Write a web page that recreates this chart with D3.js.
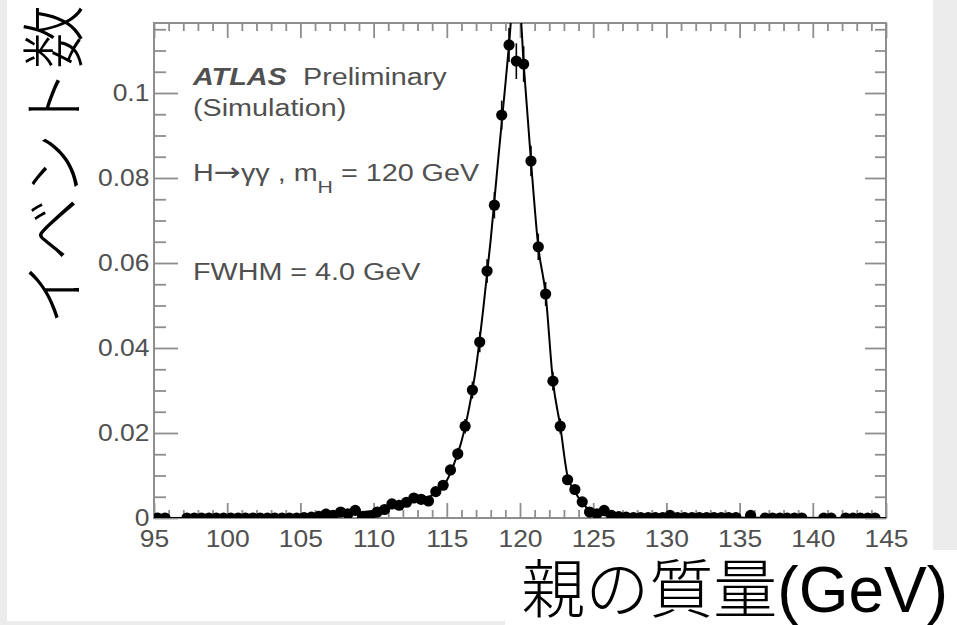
<!DOCTYPE html>
<html>
<head>
<meta charset="utf-8">
<script src="https://cdn.jsdelivr.net/npm/d3@7"></script>
<style>
  body { margin: 0; background: #ececec; }
  svg { display: block; }
</style>
</head>
<body>
<div id="chart"></div>
<script>
// ヒストグラム: 0.5 GeV ビン (中心 95.25 ... 144.75), null = 空のビン
const binStart = 95.25;
const binWidth = 0.5;
const counts = [
  0, 0, null, null, 0, 0, 0, 0, 0, 0,                                         // 95.25 - 99.75
  0, 0, 0, 0, 0, 0, 0, 0, 0, 0,                                               // 100.25 - 104.75
  0.0001, 0.0002, 0.0004, 0.0009, 0.0006, 0.0014, 0.0010, 0.0018, 0.0004, 0.0003, // 105.25 - 109.75
  0.0014, 0.0020, 0.0033, 0.0030, 0.0037, 0.0047, 0.0044, 0.0040, 0.0062, 0.0077, // 110.25 - 114.75
  0.0113, 0.0151, 0.0216, 0.0301, 0.0414, 0.0581, 0.0736, 0.0948, 0.1113, 0.1075, // 115.25 - 119.75
  0.1068, 0.0840, 0.0638, 0.0527, 0.0322, 0.0216, 0.0090, 0.0067, 0.0038, 0.0014, // 120.25 - 124.75
  0.0010, 0.0018, 0.0006, 0.0003, 0.0002, 0.0001, 0.0001, 0.0001, 0.0001, 0.0001, // 125.25 - 129.75
  0.0006, 0.0001, 0.0001, 0.0001, 0.0001, 0.0001, 0.0001, 0.0001, 0.0001, 0.0001, // 130.25 - 134.75
  null, 0.0006, null, 0, 0, 0, 0, 0, 0, null,                                 // 135.25 - 139.75
  null, 0, 0, null, 0, 0, 0, 0, 0, null                                       // 140.25 - 144.75
];
// 誤差棒 (115.25 - 124.75 のビンのみ見える)
const errStart = 115.25;
const errors = [0.0012, 0.0014, 0.0017, 0.0020, 0.0024, 0.0028, 0.0031, 0.0034, 0.0040, 0.0042,
                0.0042, 0.0036, 0.0031, 0.0028, 0.0022, 0.0018, 0.0012, 0.0010, 0.0008, 0.0005];

// フィット曲線
const fitMass = [95, 104, 106, 108, 110, 111, 112, 113, 114, 114.5, 115, 115.5, 116, 116.5, 117, 117.5,
                 118, 118.5, 119, 119.25, 119.6, 120.0, 120.25, 120.75, 121.25, 121.75, 122.25, 122.75,
                 123.25, 123.75, 124.25, 124.75, 125.5, 127, 130, 145];
const fitVal = [0, 0.0001, 0.0005, 0.0011, 0.0017, 0.0024, 0.0033, 0.0042, 0.0053, 0.0065, 0.0088, 0.0128,
                0.0180, 0.0255, 0.0355, 0.0495, 0.0655, 0.0840, 0.1020, 0.1113, 0.1240, 0.1200, 0.1068,
                0.0840, 0.0638, 0.0527, 0.0322, 0.0216, 0.0098, 0.0062, 0.0036, 0.0018, 0.0008, 0.0003,
                0.0001, 0];

// 目盛り
const xTicks = [95, 100, 105, 110, 115, 120, 125, 130, 135, 140, 145];
const yTicks = [0, 0.02, 0.04, 0.06, 0.08, 0.1];
const yTickLabels = ["0", "0.02", "0.04", "0.06", "0.08", "0.1"];

const W = 957, H = 625;
const axisColor = "#8e8e8e";
const textColor = "#505050";
const latin = "'Liberation Sans', Arial, Helvetica, sans-serif";
const cjk = "'Noto Sans CJK JP', 'Noto Sans CJK SC', sans-serif";

const svg = d3.select("#chart").append("svg")
    .attr("width", W)
    .attr("height", H);

// 背景
svg.append("rect").attr("width", W).attr("height", H).attr("fill", "#ececec");
svg.append("rect").attr("x", 7).attr("y", 0).attr("width", 926).attr("height", 621).attr("fill", "#fff");
svg.append("rect").attr("x", 505).attr("y", 550).attr("width", W - 505).attr("height", H - 550).attr("fill", "#fff");

// スケール
const x = d3.scaleLinear().domain([95, 145]).range([154, 886]);
const y = d3.scaleLinear().domain([0, 0.11647]).range([518, 23]);

const xMinor = d3.range(96, 145).filter(v => v % 5 !== 0);
const yMinor = d3.range(0.005, 0.1165, 0.005).filter(v => Math.abs(v / 0.02 - Math.round(v / 0.02)) > 0.01);

function styleAxis(g) {
    g.select(".domain").remove();
    g.selectAll("line").attr("stroke", axisColor).attr("stroke-width", 1.8);
    g.selectAll("text")
        .attr("fill", textColor)
        .style("font-family", latin)
        .style("font-size", "23px");
}

// 下軸
svg.append("g").attr("transform", "translate(0,518)")
    .call(d3.axisBottom(x).tickValues(xTicks).tickSize(-15).tickPadding(13).tickFormat(d3.format("d")))
    .call(styleAxis)
    .selectAll("text").attr("transform", "scale(1.15,1)");
svg.append("g").attr("transform", "translate(0,518)")
    .call(d3.axisBottom(x).tickValues(xMinor).tickSize(-8).tickFormat(""))
    .call(styleAxis);
// 上軸
svg.append("g").attr("transform", "translate(0,23)")
    .call(d3.axisTop(x).tickValues(xTicks).tickSize(-15).tickFormat(""))
    .call(styleAxis);
svg.append("g").attr("transform", "translate(0,23)")
    .call(d3.axisTop(x).tickValues(xMinor).tickSize(-8).tickFormat(""))
    .call(styleAxis);
// 左軸
svg.append("g").attr("transform", "translate(154,0)")
    .call(d3.axisLeft(y).tickValues(yTicks).tickSize(-24).tickPadding(4).tickFormat((d, i) => yTickLabels[i]))
    .call(styleAxis)
    .selectAll("text").attr("transform", "scale(1.15,1)");
svg.append("g").attr("transform", "translate(154,0)")
    .call(d3.axisLeft(y).tickValues(yMinor).tickSize(-12).tickFormat(""))
    .call(styleAxis);
// 右軸
svg.append("g").attr("transform", "translate(886,0)")
    .call(d3.axisRight(y).tickValues(yTicks).tickSize(-21).tickFormat(""))
    .call(styleAxis);
svg.append("g").attr("transform", "translate(886,0)")
    .call(d3.axisRight(y).tickValues(yMinor).tickSize(-11).tickFormat(""))
    .call(styleAxis);

// 枠
svg.append("rect")
    .attr("x", x(95)).attr("y", y(0.11647))
    .attr("width", x(145) - x(95)).attr("height", y(0) - y(0.11647))
    .attr("fill", "none").attr("stroke", axisColor).attr("stroke-width", 2);

// クリップ
svg.append("clipPath").attr("id", "plotClip")
    .append("rect")
    .attr("x", x(95)).attr("y", y(0.11647))
    .attr("width", x(145) - x(95)).attr("height", y(0) - y(0.11647));

const plot = svg.append("g").attr("clip-path", "url(#plotClip)");

// フィット曲線
const fit = fitMass.map((m, i) => ({m: m, v: fitVal[i]}));
plot.append("path")
    .datum(fit)
    .attr("fill", "none")
    .attr("stroke", "#000")
    .attr("stroke-width", 2)
    .attr("d", d3.line().x(d => x(d.m)).y(d => y(d.v)).curve(d3.curveMonotoneX));

// データ点
const points = counts
    .map((v, i) => ({m: binStart + i * binWidth, v: v}))
    .filter(d => d.v !== null);

const errPts = errors.map((e, i) => {
    const m = errStart + i * binWidth;
    const v = counts[Math.round((m - binStart) / binWidth)];
    return {m: m, v: v, e: e};
});

plot.selectAll(".err")
    .data(errPts)
    .enter()
    .append("line")
    .attr("class", "err")
    .attr("x1", d => x(d.m)).attr("x2", d => x(d.m))
    .attr("y1", d => y(d.v - d.e)).attr("y2", d => y(d.v + d.e))
    .attr("stroke", "#000")
    .attr("stroke-width", 1.6);

plot.selectAll(".dot")
    .data(points)
    .enter()
    .append("circle")
    .attr("class", "dot")
    .attr("r", 5.6)
    .attr("cx", d => x(d.m))
    .attr("cy", d => y(d.v))
    .attr("fill", "#000");

// 注釈
function note(px, py, parts) {
    const t = svg.append("text")
        .attr("transform", `translate(${px},${py}) scale(1.25,1)`)
        .attr("fill", textColor)
        .style("font-family", latin)
        .style("font-size", "23px");
    parts.forEach(p => {
        const s = t.append("tspan").text(p.text);
        if (p.bold) s.style("font-weight", "bold").style("font-style", "italic");
        if (p.dy) s.attr("dy", p.dy);
        if (p.size) s.style("font-size", p.size);
        if (p.font) s.style("font-family", p.font);
    });
    return t;
}

note(193, 85, [{text: "ATLAS", bold: true}]);
note(303, 85, [{text: "Preliminary"}]);
note(193, 116, [{text: "(Simulation)"}]);
note(193, 181, [
    {text: "H"},
    {text: "\u2192", font: "'DejaVu Sans', sans-serif", size: "26px"},
    {text: "\u03b3\u03b3 , m"},
    {text: "H", dy: 12, size: "17px"},
    {text: " = 120 GeV", dy: -12}
]);
note(193, 280, [{text: "FWHM = 4.0 GeV"}]);

// 軸タイトル
svg.append("text")
    .attr("transform", "translate(49,165) rotate(-90)")
    .attr("text-anchor", "middle")
    .attr("dominant-baseline", "central")
    .style("font-family", cjk)
    .style("font-weight", 300)
    .style("font-size", "64px")
    .attr("fill", "#000")
    .text("イベント数");

const xt = svg.append("text")
    .attr("x", 948)
    .attr("y", 612)
    .attr("text-anchor", "end")
    .style("font-family", cjk)
    .style("font-weight", 300)
    .style("font-size", "64px")
    .attr("fill", "#000");
xt.append("tspan").text("親の質量");
xt.append("tspan").style("font-family", latin).text("(GeV)");
</script>
</body>
</html>
